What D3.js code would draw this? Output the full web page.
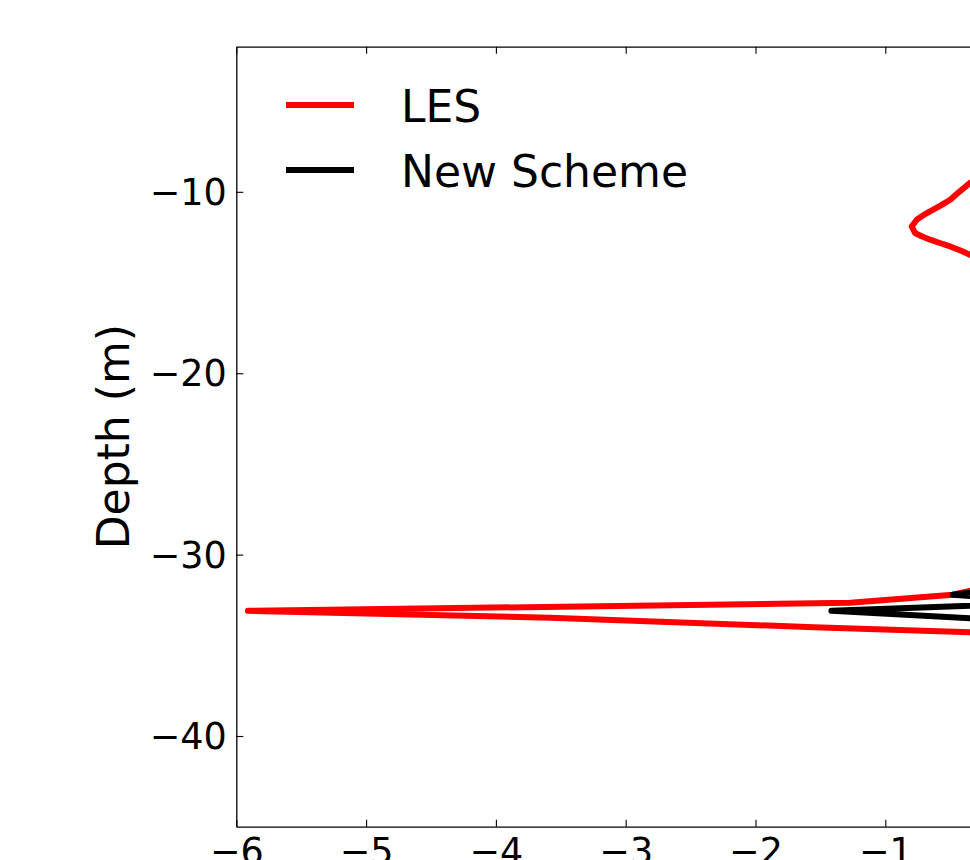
<!DOCTYPE html>
<html>
<head>
<meta charset="utf-8">
<script src="https://cdn.jsdelivr.net/npm/d3@7"></script>
<style>
  html, body { margin: 0; padding: 0; background: #fff; overflow: hidden; }
  svg { display: block; font-family: "DejaVu Sans", sans-serif; }
</style>
</head>
<body>
<svg id="chart" width="970" height="860"></svg>
<script>
// LES profile: depth (m) and value at each level
const lesDepth = [-2.0, -3.0, -4.0, -5.0, -6.0, -7.0, -8.0, -8.6, -9.05, -9.51, -10.0, -10.44,
  -10.76, -11.08, -11.3, -11.54, -11.91, -12.27, -12.45, -12.64, -12.82, -13.01, -13.24, -13.47,
  -13.95, -14.5, -15.2, -16.0, -18.0, -20.0, -22.0, -24.0, -26.0, -28.0, -30.0, -31.0, -31.76,
  -32.21, -32.66, -33.10, -33.48, -34.0, -34.45, -34.9, -35.5, -37.0, -40.0, -45.0];
const lesValue = [0.05, 0.05, 0.04, 0.03, 0.02, 0.0, -0.05, -0.12, -0.23, -0.347, -0.43, -0.50,
  -0.575, -0.655, -0.71, -0.758, -0.797, -0.771, -0.72, -0.655, -0.58, -0.50, -0.42, -0.347,
  -0.22, -0.12, -0.05, 0.0, 0.02, 0.03, 0.03, 0.02, 0.0, -0.02, -0.05, -0.1, -0.2,
  -0.48, -1.27, -5.91, -3.58, -1.55, 0.4, 0.2, 0.05, 0.0, 0.0, 0.0];

// New scheme profile
const nsDepth = [-2.0, -5.0, -10.0, -15.0, -20.0, -25.0, -30.0, -31.76, -32.21, -32.66, -33.10,
  -33.54, -34.0, -35.0, -40.0, -45.0];
const nsValue = [0.0, 0.0, 0.02, 0.02, 0.01, 0.0, 0.05, 0.1, -0.48, 0.29, -1.415,
  -0.25, 0.1, 0.0, 0.0, 0.0];

const xTicks = [-6, -5, -4, -3, -2, -1, 0, 1];
const yTicks = [-40, -30, -20, -10];
const xDomain = [-6, 1];
const yDomain = [-45, -2];

const seriesNames = ["LES", "New Scheme"];
const seriesColors = ["#ff0000", "#000000"];

const margin = { left: 236.3, top: 46.7 };
const plotW = 7 * 129.8;
const plotH = 780;

const svg = d3.select("#chart");
const g = svg.append("g").attr("transform", `translate(${margin.left},${margin.top})`);

const x = d3.scaleLinear().domain(xDomain).range([0, plotW]);
const y = d3.scaleLinear().domain(yDomain).range([plotH, 0]);

const fmt = t => (t < 0 ? "\u2212" : "") + Math.abs(t);

g.append("clipPath").attr("id", "plot-clip")
  .append("rect").attr("width", plotW).attr("height", plotH);

// data lines
const line = d3.line().x(d => x(d[0])).y(d => y(d[1]));
const series = [
  d3.zip(lesValue, lesDepth),
  d3.zip(nsValue, nsDepth)
];
series.forEach((pts, i) => {
  g.append("path")
    .datum(pts)
    .attr("clip-path", "url(#plot-clip)")
    .attr("fill", "none")
    .attr("stroke", seriesColors[i])
    .attr("stroke-width", 6)
    .attr("stroke-linejoin", "round")
    .attr("d", line);
});

// axes with inward ticks, classic style
function styleAxis(sel) {
  sel.select(".domain").attr("stroke", "#000").attr("stroke-width", 1.3);
  sel.selectAll(".tick line").attr("stroke", "#000").attr("stroke-width", 1.1);
  sel.selectAll(".tick text")
    .attr("fill", "#000")
    .style("font-family", "'DejaVu Sans', sans-serif")
    .style("font-size", "36.5px");
}

g.append("g").attr("transform", `translate(0,${plotH})`)
  .call(d3.axisBottom(x).tickValues(xTicks).tickFormat(fmt).tickSize(-7).tickSizeOuter(0).tickPadding(11.5))
  .call(styleAxis);

g.append("g")
  .call(d3.axisTop(x).tickValues(xTicks).tickFormat("").tickSize(-7).tickSizeOuter(0))
  .call(styleAxis);

g.append("g")
  .call(d3.axisLeft(y).tickValues(yTicks).tickFormat(fmt).tickSize(-7).tickSizeOuter(0).tickPadding(9.5))
  .call(styleAxis)
  .selectAll(".tick text").attr("dy", "0.35em");

g.append("g").attr("transform", `translate(${plotW},0)`)
  .call(d3.axisRight(y).tickValues(yTicks).tickFormat("").tickSize(-7).tickSizeOuter(0))
  .call(styleAxis);

// y axis title
svg.append("text")
  .attr("transform", `translate(129,${margin.top + plotH / 2}) rotate(-90)`)
  .attr("text-anchor", "middle")
  .style("font-size", "44px")
  .attr("fill", "#000")
  .text("Depth (m)");

// legend
const legend = svg.append("g");
seriesNames.forEach((name, i) => {
  const ly = 105 + i * 65;
  legend.append("line")
    .attr("x1", 286).attr("x2", 354)
    .attr("y1", ly).attr("y2", ly)
    .attr("stroke", seriesColors[i])
    .attr("stroke-width", 6);
  legend.append("text")
    .attr("x", 401)
    .attr("y", ly + 16.5)
    .style("font-size", "44px")
    .attr("fill", "#000")
    .text(name);
});
</script>
</body>
</html>
